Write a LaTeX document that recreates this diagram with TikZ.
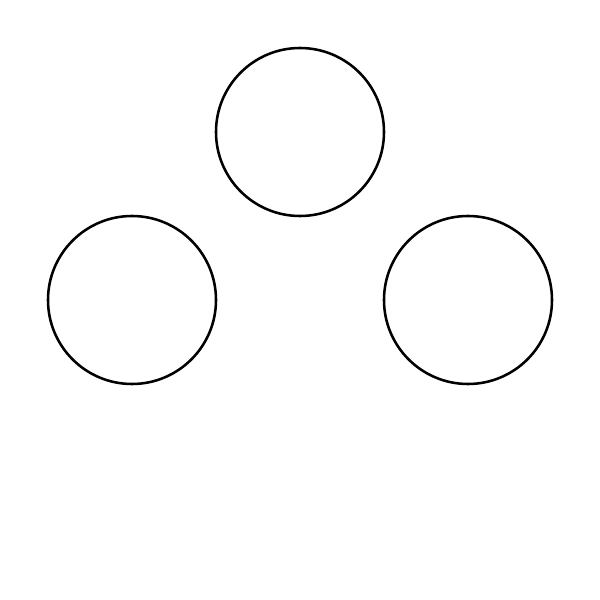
\documentclass[tikz,border=0pt]{standalone}
\begin{document}
\begin{tikzpicture}[
  ball/.style={circle, draw=black, line width=1.45pt, minimum size=3.36cm, inner sep=0pt}
]
\useasboundingbox (0,0) rectangle (12,12);
% three circles
\node[ball] (top) at (6.0, 9.36) {};
\node[ball] (left) at (2.64, 6.0) {};
\node[ball] (right) at (9.36, 6.0) {};
\end{tikzpicture}
\end{document}
